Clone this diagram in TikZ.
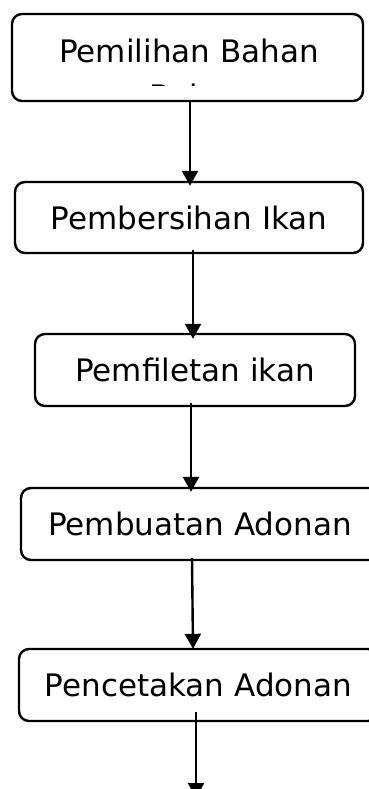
\documentclass[tikz,border=0pt]{standalone}
\usepackage{fontspec}
\setmainfont{DejaVu Sans}
\usetikzlibrary{arrows.meta}
\begin{document}
\begin{tikzpicture}[x=1pt, y=-1pt, font=\fontsize{31}{40}\selectfont,
        box/.style={draw, line width=2.4pt, rounded corners=10pt, inner sep=0pt},
        arr/.style={line width=2.4pt, -{Triangle[length=15pt, width=16pt]}}]
        \clip (0,0) rectangle (369,789);
        \node[box, minimum width=351pt, minimum height=87pt] (b1) at (187.5,57.5) {};
        \node[anchor=base] (t1) at (189,63) {Pemilihan Bahan};
        \begin{scope}
            \clip (100,80) rectangle (280,85.6);
            \node[anchor=base] (t1b) at (187.5,107) {Baku};
        \end{scope}
        \node[box, minimum width=348pt, minimum height=71pt] (b2) at (189,217.5) {Pembersihan Ikan};
        \node[box, minimum width=320pt, minimum height=72pt] (b3) at (195,370) {Pemfiletan ikan};
        \node[box, minimum width=358pt, minimum height=72pt] (b4) at (200,524) {Pembuatan Adonan};
        \node[box, minimum width=359pt, minimum height=72pt] (b5) at (198.5,685) {Pencetakan Adonan};
        \coordinate (end) at (196,798);
        \draw[arr] ([xshift=2.5pt]b1.south) -- ([xshift=1pt, yshift=-5pt]b2.north);
        \draw[arr] ([xshift=4pt, yshift=4pt]b2.south) -- ([xshift=-2pt, yshift=-6pt]b3.north);
        \draw[arr] ([xshift=-4pt, yshift=4pt]b3.south) -- ([xshift=-9pt, yshift=-5pt]b4.north);
        \draw[arr] ([xshift=-8pt, yshift=3pt]b4.south) -- ([xshift=-5.5pt, yshift=-1pt]b5.north);
        \draw[arr] ([xshift=-2.5pt, yshift=10pt]b5.south) -- (end);
\end{tikzpicture}
\end{document}
